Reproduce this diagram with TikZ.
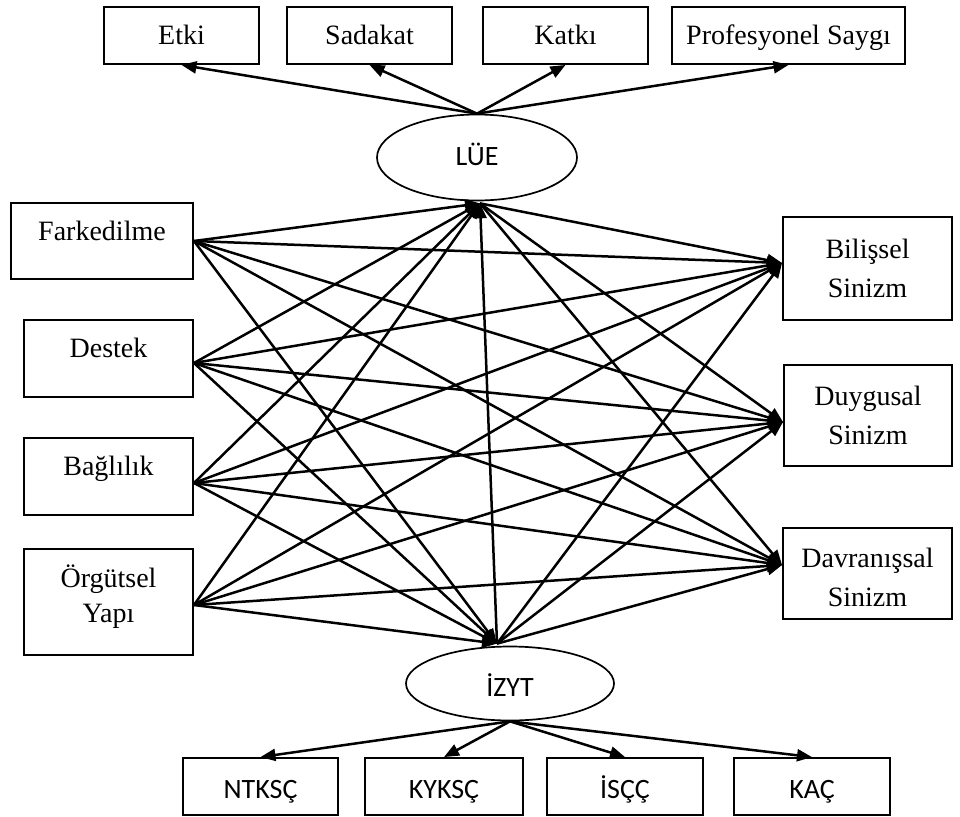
\documentclass[tikz,border=0pt]{standalone}
\usepackage{fontspec}
\setmainfont{Liberation Serif}
\newfontfamily\codefont{Carlito}
\usetikzlibrary{arrows.meta,shapes.geometric,calc}

\begin{document}
\begin{tikzpicture}[x=1pt,y=-1pt,
  box/.style={draw, line width=1.9pt, inner sep=0pt, align=center,
    font=\fontsize{28}{35}\selectfont},
  topbox/.style={box, minimum height=57pt, text height=19pt, text depth=0pt},
  leftbox/.style={box, minimum width=169pt, text height=19pt, text depth=20.5pt},
  rightbox/.style={box, font=\fontsize{28}{39}\selectfont},
  codebox/.style={box, minimum width=156pt, minimum height=57pt,
    font=\codefont\fontsize{28}{34}\selectfont, text height=23pt, text depth=0pt},
  oval/.style={draw, ellipse, line width=1.7pt, inner sep=0pt,
    font=\codefont\fontsize{28}{34}\selectfont},
  link/.style={line width=2.5pt, -{Triangle[length=15pt,width=12pt]}},
]
\useasboundingbox (0,0) rectangle (960,816);

% factor boxes of the upper construct
\node[topbox, minimum width=155pt] (etki) at (181.5,35.5) {Etki};
\node[topbox, minimum width=165pt] (sadakat) at (369.5,35.5) {Sadakat};
\node[topbox, minimum width=165pt] (katki) at (565.5,35.5) {Katkı};
\node[topbox, minimum width=233pt] (saygi) at (788.5,35.5) {Profesyonel Saygı};

% mediating constructs
\node[oval, minimum width=200pt, minimum height=86pt, text height=15pt, text depth=0pt]
  (lue) at (477,157.5) {LÜE};
\node[oval, minimum width=208pt, minimum height=74pt, text height=26pt, text depth=0pt]
  (izyt) at (510,683.5) {İZYT};

% predictors
\node[leftbox, minimum width=182pt, minimum height=76pt] (far) at (102,241) {Farkedilme};
\node[leftbox, minimum height=77pt] (des) at (108.5,358.5) {Destek};
\node[leftbox, minimum height=77pt] (bag) at (108.5,476.5) {Bağlılık};
\node[box, minimum width=169pt, minimum height=106pt] (org) at (108.5,602)
  {Örgütsel\\Yapı\rule[-16pt]{0pt}{16pt}};

% outcomes
\node[rightbox, minimum width=169pt, minimum height=103pt] (bil) at (867.5,268.5) {Bilişsel\\Sinizm};
\node[rightbox, minimum width=168pt, minimum height=101pt] (duy) at (868,415.5) {Duygusal\\Sinizm};
\node[rightbox, minimum width=169pt, minimum height=91pt] (dav) at (867.5,573.5)
  {\rule{0pt}{28pt}Davranışsal\\Sinizm};

% factor boxes of the lower construct
\node[codebox, minimum width=155pt] (ntk) at (260.5,786.5) {NTKSÇ};
\node[codebox, minimum width=158pt] (kyk) at (444,786.5) {KYKSÇ};
\node[codebox] (isc) at (625,786.5) {İSÇÇ};
\node[codebox] (kac) at (812,786.5) {KAÇ};

% connection points
\coordinate (lueB) at ($(lue.south)+(3,2)$);
\coordinate (izT) at ($(izyt.north)+(-13,-2)$);
\coordinate (farO) at (far.east);
\coordinate (desO) at ($(des.east)+(0,4.5)$);
\coordinate (bagO) at ($(bag.east)+(0,6.5)$);
\coordinate (orgO) at ($(org.east)+(0,3)$);
\coordinate (bilIn) at ($(bil.west)+(0,-5.5)$);
\coordinate (duyIn) at ($(duy.west)+(0,6.5)$);
\coordinate (davIn) at ($(dav.west)+(0,-8.5)$);

% paths from every predictor
\foreach \s in {farO,desO,bagO,orgO}
  \foreach \t in {lueB,izT,bilIn,duyIn,davIn}
    \draw[link] (\s) -- (\t);

% paths from the mediators to the outcomes
\foreach \t in {bilIn,duyIn,davIn} {
  \draw[link] (lueB) -- (\t);
  \draw[link] (izT) -- (\t);
}
\draw[link] (izT) -- (lueB);

% measurement arrows
\foreach \t in {etki,sadakat,katki,saygi}
  \draw[link] (lue.north) -- (\t.south);
\foreach \t in {ntk,kyk,isc,kac}
  \draw[link] (izyt.south) -- (\t.north);
\end{tikzpicture}
\end{document}
